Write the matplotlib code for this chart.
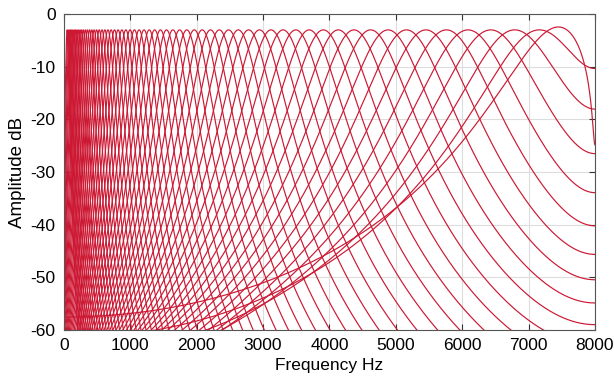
import numpy as np
import matplotlib
matplotlib.use("Agg")
import matplotlib.pyplot as plt

# filterbank settings
fs = 16000
n_channels = 64
low_freq = 50
peak_db = -3.0

x_ticks = [0, 1000, 2000, 3000, 4000, 5000, 6000, 7000, 8000]
y_ticks = [0, -10, -20, -30, -40, -50, -60]


def erb_space(low, high, n):
    ear_q = 9.26449
    min_bw = 24.7
    i = np.arange(1, n + 1)
    return -ear_q * min_bw + np.exp(i * (-np.log(high + ear_q * min_bw)
                                         + np.log(low + ear_q * min_bw)) / n) * (high + ear_q * min_bw)


def gammatone_response(cf, f):
    # 4 cascaded 2nd order sections (Slaney style), normalised at cf
    T = 1.0 / fs
    erb = cf / 9.26449 + 24.7
    B = 1.019 * 2 * np.pi * erb
    c = np.cos(2 * cf * np.pi * T)
    s = np.sin(2 * cf * np.pi * T)
    e = np.exp(B * T)
    A0 = T
    A2 = 0.0
    B0 = 1.0
    B1 = -2 * c / e
    B2 = np.exp(-2 * B * T)
    r1 = np.sqrt(3 + 2 ** 1.5)
    r2 = np.sqrt(3 - 2 ** 1.5)
    A1s = [-(2 * T * c / e + 2 * r1 * T * s / e) / 2,
           -(2 * T * c / e - 2 * r1 * T * s / e) / 2,
           -(2 * T * c / e + 2 * r2 * T * s / e) / 2,
           -(2 * T * c / e - 2 * r2 * T * s / e) / 2]

    def H(freq):
        z1 = np.exp(-1j * 2 * np.pi * freq / fs)
        h = np.ones_like(z1)
        for A1 in A1s:
            h = h * (A0 + A1 * z1 + A2 * z1 ** 2) / (B0 + B1 * z1 + B2 * z1 ** 2)
        return h

    gain = np.abs(H(np.array([cf])))[0]
    return 20 * np.log10(np.abs(H(f)) / gain + 1e-12)


freqs = np.linspace(0, fs / 2, 3000)
centre_freqs = erb_space(low_freq, fs / 2, n_channels)

plt.rcParams["font.family"] = ["Liberation Sans", "DejaVu Sans"]
plt.rcParams["axes.unicode_minus"] = False

fig = plt.figure(figsize=(6.14, 3.91), dpi=100)
ax = fig.add_axes([0.104, 0.156, 0.865, 0.808])

for cf in centre_freqs:
    ax.plot(freqs, gammatone_response(cf, freqs) + peak_db, color="#cc1833", lw=0.85)

ax.set_xlim(0, 8000)
ax.set_ylim(-60, 0)
ax.set_xticks(x_ticks)
ax.set_yticks(y_ticks)
ax.tick_params(direction="in", top=True, right=True, labelsize=12.5, length=4,
               color="#333333", pad=6)
ax.grid(True, color="#dddddd", lw=0.8)
ax.set_axisbelow(True)
for sp in ax.spines.values():
    sp.set_color("#555555")
ax.set_xlabel("Frequency Hz", fontsize=12.5, labelpad=3)
ax.set_ylabel("Amplitude dB", fontsize=13.5, labelpad=3)

fig.savefig("out.png", dpi=100)
